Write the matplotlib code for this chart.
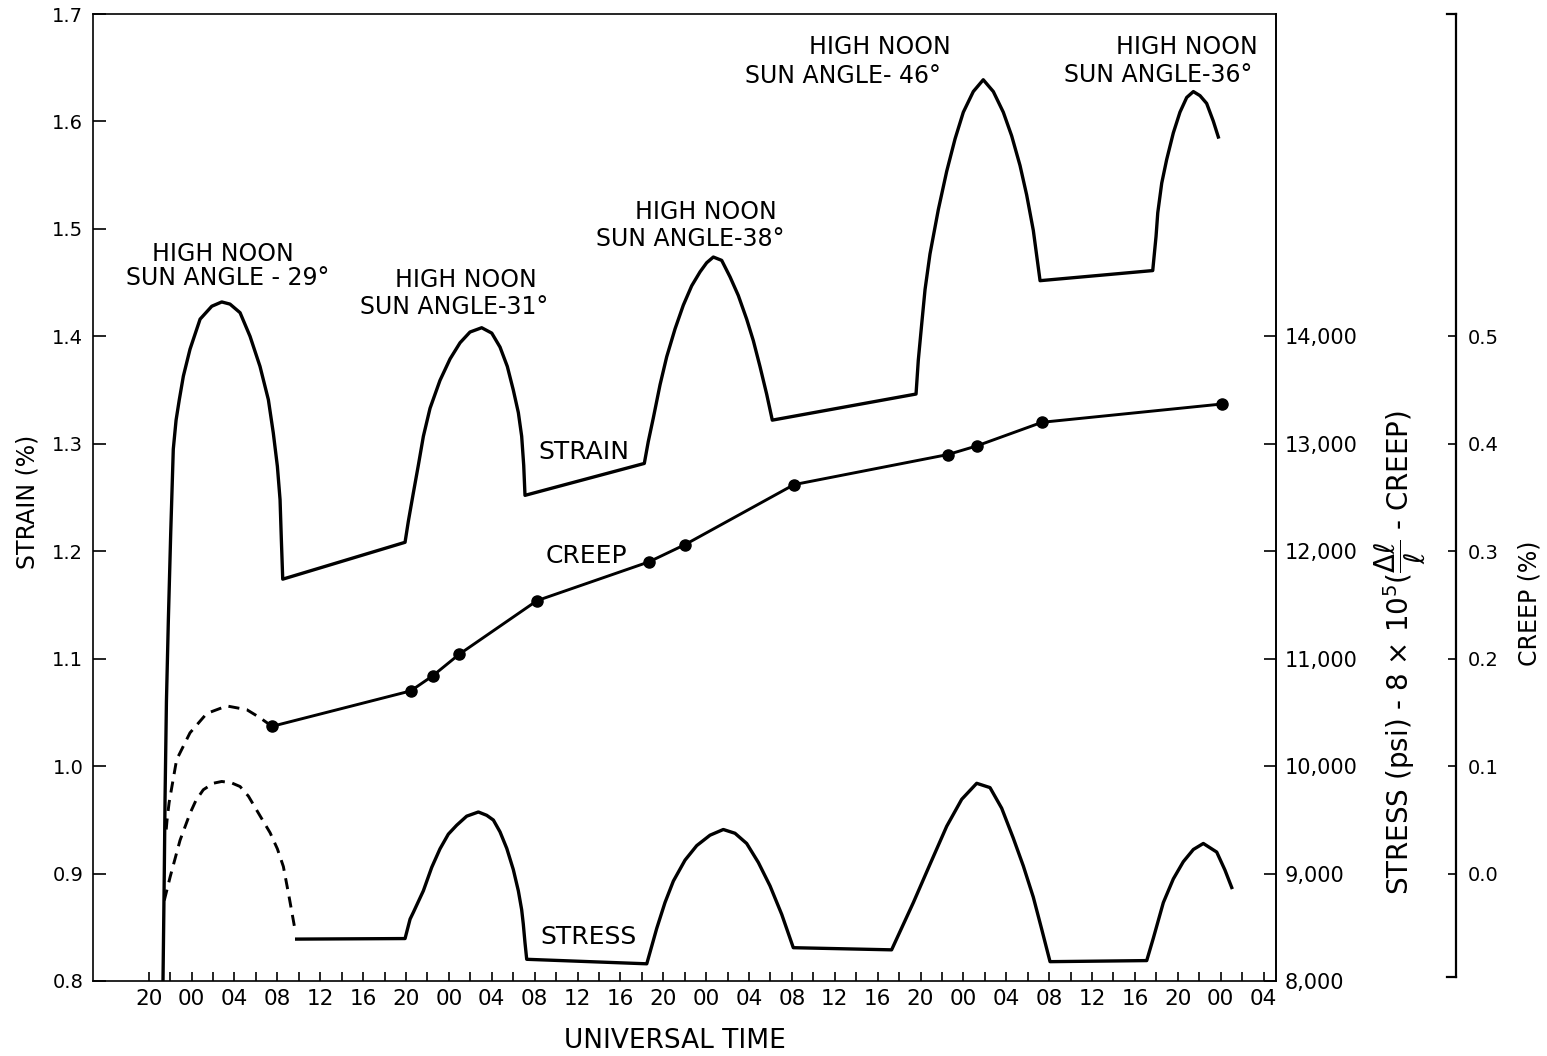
import matplotlib
matplotlib.use('Agg')
import matplotlib.pyplot as plt

W, H = 1547, 1056

# ---------------- data ----------------
# time in hours after 20:00 UT of the first day
tick_hours = list(range(0, 105, 2))
label_hours = list(range(0, 105, 4))
time_labels = ['20', '00', '04', '08', '12', '16', '20', '00', '04', '08', '12', '16',
               '20', '00', '04', '08', '12', '16', '20', '00', '04', '08', '12', '16',
               '20', '00', '04']

strain_ticks = [0.8, 0.9, 1.0, 1.1, 1.2, 1.3, 1.4, 1.5, 1.6, 1.7]
stress_ticks = [8000, 9000, 10000, 11000, 12000, 13000, 14000]
stress_tick_labels = ['8,000', '9,000', '10,000', '11,000', '12,000', '13,000', '14,000']
creep_ticks = [0.0, 0.1, 0.2, 0.3, 0.4, 0.5]

# strain (%)
strain_t = [1.33, 1.45, 1.52, 1.65, 1.83, 2.05, 2.29, 2.55, 2.85, 3.23, 3.85, 4.79, 5.88, 6.81,
            7.58, 8.52, 9.45, 10.38, 11.16, 11.62, 12.00, 12.25, 12.37, 12.50,
            23.91, 24.22, 24.68, 25.15, 25.62, 26.24, 27.17, 28.11, 29.04, 29.97, 31.06,
            32.00, 32.77, 33.45, 34.01, 34.48, 34.79, 34.98, 35.10,
            46.23, 46.60, 47.07, 47.70, 48.32, 49.10, 49.87, 50.65, 51.43, 52.05, 52.67,
            53.45, 54.23, 55.00, 55.78, 56.40, 57.02, 57.65, 58.17,
            71.58, 71.79, 72.10, 72.42, 72.88, 73.66, 74.44, 75.22, 75.99, 76.92, 77.85,
            78.79, 79.72, 80.50, 81.28, 81.90, 82.52, 82.89, 83.15,
            93.66, 93.97, 94.13, 94.50, 94.96, 95.58, 96.20, 96.83, 97.45, 98.07, 98.69,
            99.31, 99.78]
strain_v = [0.800, 0.900, 0.969, 1.060, 1.136, 1.217, 1.295, 1.322, 1.341, 1.363, 1.388, 1.416, 1.428, 1.432,
            1.430, 1.422, 1.400, 1.372, 1.341, 1.310, 1.279, 1.248, 1.211, 1.174,
            1.2083, 1.228, 1.254, 1.280, 1.307, 1.333, 1.359, 1.379, 1.394, 1.404, 1.408,
            1.403, 1.390, 1.372, 1.350, 1.329, 1.307, 1.280, 1.252,
            1.2817, 1.302, 1.324, 1.355, 1.381, 1.407, 1.429, 1.447, 1.460, 1.4685, 1.4738,
            1.4707, 1.4553, 1.438, 1.416, 1.396, 1.372, 1.346, 1.322,
            1.3463, 1.3777, 1.4106, 1.4436, 1.4766, 1.518, 1.5536, 1.5838, 1.6086, 1.6278, 1.6388,
            1.6278, 1.6086, 1.5866, 1.559, 1.5316, 1.4986, 1.4711, 1.4518,
            1.4612, 1.4931, 1.515, 1.5426, 1.5645, 1.5893, 1.6086, 1.6223, 1.6278, 1.624, 1.6168,
            1.6003, 1.5855]

# creep (%) measured points
creep_t = [11.50, 24.44, 26.49, 28.95, 36.22, 46.64, 50.0, 60.2, 74.56, 77.24, 83.33, 100.1]
creep_v = [0.137, 0.170, 0.184, 0.204, 0.254, 0.290, 0.306, 0.362, 0.390, 0.398, 0.420, 0.437]
# creep (%) estimated (dashed) during first day
creep_est_t = [1.63, 1.71, 1.90, 2.60, 3.85, 5.41, 7.28, 9.15, 10.38, 11.50]
creep_est_v = [0.041, 0.050, 0.066, 0.106, 0.131, 0.149, 0.156, 0.1525, 0.145, 0.137]

# stress (psi)
stress_est_t = [1.45, 2.00, 2.92, 3.85, 4.40, 5.09, 6.00, 6.81, 7.70, 8.52, 9.30, 10.07,
                11.32, 12.00, 12.56, 13.10, 13.65]
stress_est_v = [8750, 8970, 9310, 9560, 9680, 9780, 9840, 9857, 9845, 9810, 9720, 9590,
                9380, 9230, 9065, 8780, 8475]
stress_t = [13.80, 23.91, 24.38, 24.69, 25.62, 26.40, 27.17, 27.95, 28.73, 29.66, 30.75, 31.53,
            32.15, 32.77, 33.40, 34.01, 34.48, 34.79, 34.94, 35.10, 35.26,
            46.46, 47.39, 48.16, 48.94, 50.03, 51.12, 52.36, 53.60, 54.69, 55.78, 56.87,
            57.96, 59.05, 60.13,
            69.30, 71.33, 72.88, 74.44, 75.84, 77.24, 78.48, 79.57, 80.65, 81.59, 82.52,
            83.30, 84.08,
            93.10, 93.72, 94.65, 95.58, 96.51, 97.45, 98.38, 99.63, 100.40, 101.03]
stress_v = [8390, 8395, 8576, 8640, 8840, 9058, 9230, 9367, 9450, 9534, 9573, 9542,
            9498, 9388, 9234, 9037, 8839, 8663, 8531, 8356, 8202,
            8160, 8490, 8730, 8930, 9125, 9260, 9357, 9410, 9375, 9280, 9103,
            8885, 8620, 8310,
            8290, 8730, 9086, 9440, 9691, 9840, 9800, 9608, 9330, 9070, 8780,
            8483, 8180,
            8190, 8400, 8730, 8950, 9110, 9224, 9280, 9200, 9032, 8870]

annotations = [("HIGH NOON", "SUN ANGLE - 29°"), ("HIGH NOON", "SUN ANGLE-31°"),
               ("HIGH NOON", "SUN ANGLE-38°"), ("HIGH NOON", "SUN ANGLE- 46°"),
               ("HIGH NOON", "SUN ANGLE-36°")]

# ---------------- figure ----------------
plt.rcParams['font.family'] = ['DejaVu Sans']
fig = plt.figure(figsize=(W / 100, H / 100), dpi=100)

def fx(px):
    return px / W

def fy(py):
    return 1 - py / H

L, R, T, B = 93, 1276, 14, 981
ax = fig.add_axes([fx(L), fy(B), fx(R) - fx(L), fy(T) - fy(B)])
ax.set_xlim(-5.2, 105.16)
ax.set_ylim(0.8, 1.7)

lw = 2.4
ax.plot(strain_t, strain_v, color='black', lw=lw, solid_joinstyle='round', zorder=3)

ax.set_yticks(strain_ticks)
ax.set_yticklabels([f"{v:.1f}" for v in strain_ticks], fontsize=14)
ax.set_xticks(label_hours)
ax.set_xticklabels(time_labels, fontsize=15.5)
ax.set_xticks(tick_hours, minor=True)
ax.tick_params(axis='y', direction='in', length=9, width=1.2, pad=7)
ax.tick_params(axis='x', which='both', direction='in', length=6.5, width=1.2, pad=6)
ax.tick_params(axis='y', right=False)
for s in ax.spines.values():
    s.set_linewidth(1.2)

# stress axis
axs = ax.twinx()
axs.set_ylim(8000, 17000)
axs.plot(stress_est_t, stress_est_v, color='black', lw=2.1, dashes=(3.8, 2.6), zorder=3)
axs.plot(stress_t, stress_v, color='black', lw=lw, solid_joinstyle='round', zorder=3)
axs.set_yticks(stress_ticks)
axs.set_yticklabels(stress_tick_labels, fontsize=15)
axs.tick_params(axis='y', direction='in', length=9, width=1.2, pad=6.5)
for k in ['left', 'top', 'bottom']:
    axs.spines[k].set_visible(False)
axs.spines['right'].set_linewidth(1.2)

# creep axis
axc = ax.twinx()
axc.set_ylim(-0.1, 0.8)
axc.plot(creep_est_t, creep_est_v, color='black', lw=2.1, dashes=(3.8, 2.6), zorder=3)
axc.plot(creep_t, creep_v, color='black', lw=2.1, marker='o', markersize=8, zorder=4)
pos = (1456 - L) / (R - L)
axc.spines['right'].set_position(('axes', pos))
axc.spines['right'].set_bounds(-0.096, 0.8)
axc.spines['right'].set_linewidth(1.6)
for k in ['left', 'top', 'bottom']:
    axc.spines[k].set_visible(False)
axc.set_yticks(creep_ticks)
axc.set_yticklabels([f"{v:.1f}" for v in creep_ticks], fontsize=14)
axc.tick_params(axis='y', direction='in', length=6, width=1.2, pad=8.5)
hk = 9 / (R - L)
axc.plot([pos - hk, pos], [1.0, 1.0], transform=axc.transAxes, color='black', lw=1.6, clip_on=False)
axc.plot([pos - hk, pos], [0.004, 0.004], transform=axc.transAxes, color='black', lw=1.6, clip_on=False)

# annotations (pixel centres)
ann_pos = [((223, 254), (228, 278)), ((466, 280), (454, 307)), ((706, 212), (690, 239)),
           ((880, 47), (843, 76)), ((1187, 47), (1158, 75))]
for (l1, l2), ((x1, y1), (x2, y2)) in zip(annotations, ann_pos):
    fig.text(fx(x1), fy(y1), l1, ha='center', va='center', fontsize=17)
    fig.text(fx(x2), fy(y2), l2, ha='center', va='center', fontsize=17)

fig.text(fx(584), fy(452), "STRAIN", ha='center', va='center', fontsize=18)
fig.text(fx(586), fy(556), "CREEP", ha='center', va='center', fontsize=18)
fig.text(fx(589), fy(937), "STRESS", ha='center', va='center', fontsize=18)

fig.text(fx(28), fy(502), "STRAIN (%)", rotation=90, ha='center', va='center', fontsize=17)
fig.text(fx(675), fy(1041), "UNIVERSAL TIME", ha='center', va='center', fontsize=19)
fig.text(fx(1400), fy(652), r"STRESS (psi) - 8 $\times$ 10$^5$($\dfrac{\Delta\ell}{\ell}$ - CREEP)",
         rotation=90, ha='center', va='center', fontsize=20)
fig.text(fx(1530), fy(603), "CREEP (%)", rotation=90, ha='center', va='center', fontsize=17)

fig.savefig('out.png', dpi=100)
